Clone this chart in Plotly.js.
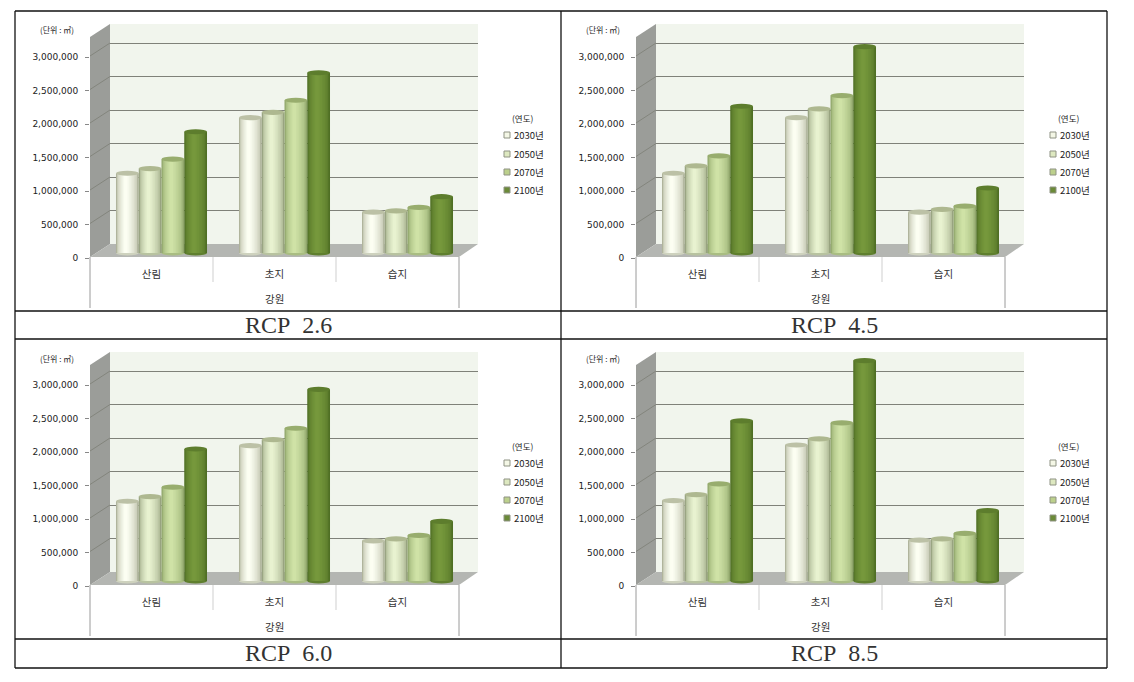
<!DOCTYPE html>
<html><head><meta charset="utf-8">
<script src="https://cdn.plot.ly/plotly-3.0.1.min.js"></script>
<style>html,body{margin:0;padding:0;background:#fff}#c{width:1134px;height:682px}</style>
</head><body><div id="c"></div>
<script>
const categories = ['산림','초지','습지'];
const years = ['2030년','2050년','2070년','2100년'];
const yTicks = [0,500000,1000000,1500000,2000000,2500000,3000000];
const captions = ['RCP\u00a0\u00a02.6','RCP\u00a0\u00a04.5','RCP\u00a0\u00a06.0','RCP\u00a0\u00a08.5'];
const groupTitle = '강원';
const unitLabel = '(단위 : ㎥)';
const legendTitle = '(연도)';

const rcp26 = [[1190000,2020000,610000],[1260000,2100000,630000],[1400000,2280000,680000],[1810000,2690000,840000]];
const rcp45 = [[1190000,2020000,610000],[1300000,2150000,650000],[1450000,2350000,700000],[2190000,3080000,970000]];
const rcp60 = [[1190000,2020000,600000],[1260000,2110000,630000],[1400000,2280000,680000],[1970000,2860000,890000]];
const rcp85 = [[1200000,2030000,610000],[1290000,2120000,630000],[1450000,2360000,710000],[2390000,3290000,1050000]];
const panels = [rcp26,rcp45,rcp60,rcp85];

const edgeColors = ['#b0b49c','#98a380','#8fa56a','#4f6f24'];
const centerColors = ['#fcfef2','#e8f2d0','#cfe2a6','#76983c'];
const capColors = ['#bcc1a6','#aeb890','#98ad6e','#5d7d2d'];
const legendColors = ['#f4f7e6','#dde8c0','#bcd08c','#6b8a38'];

const W=1134,H=682,PX_PER_UNIT=67/1e6,LAYERS=8;
const px=x=>x/W, py=y=>1-y/H;
const hex=c=>[1,3,5].map(i=>parseInt(c.substr(i,2),16));
const mix=(a,b,t)=>{const A=hex(a),B=hex(b);return 'rgb('+A.map((v,i)=>Math.round(v+(B[i]-v)*t)).join(',')+')';};

const layout={width:W,height:H,margin:{l:0,r:0,t:0,b:0,pad:0},paper_bgcolor:'#fff',plot_bgcolor:'rgba(0,0,0,0)',
  barmode:'overlay',showlegend:false,shapes:[],annotations:[],font:{family:'"Noto Sans CJK KR","Noto Sans",sans-serif',color:'#222',size:9}};
const traces=[];
const S=layout.shapes,A=layout.annotations;
const poly=(pts,fill)=>S.push({type:'path',xref:'paper',yref:'paper',layer:'below',fillcolor:fill,line:{width:0},
  path:'M'+pts.map(p=>px(p[0])+','+py(p[1])).join('L')+'Z'});
const seg=(x0,y0,x1,y1,c,w,layer)=>S.push({type:'line',xref:'paper',yref:'paper',layer:layer||'below',x0:px(x0),y0:py(y0),x1:px(x1),y1:py(y1),line:{color:c,width:w}});
const note=(t,x,y,size,extra)=>A.push(Object.assign({text:t,xref:'paper',yref:'paper',x:px(x),y:py(y),showarrow:false,font:{size:size},xanchor:'center',yanchor:'middle'},extra||{}));

panels.forEach((data,p)=>{
  const ox=p%2*546, oy=(p>>1)*328;
  const id=n=>p*3+n;
  const key=(c,n)=>c+'axis'+(id(n)===1?'':id(n));
  const ref=(c,n)=>c+(id(n)===1?'':id(n));
  poly([[90+ox,37+oy],[110+ox,24+oy],[110+ox,244+oy],[90+ox,257+oy]],'#9b9d99');
  poly([[110+ox,24+oy],[478+ox,24+oy],[478+ox,244+oy],[110+ox,244+oy]],'#f1f5ed');
  poly([[90+ox,257+oy],[110+ox,244+oy],[478+ox,244+oy],[459+ox,257+oy]],'#b4b6b2');
  yTicks.slice(1).forEach(v=>seg(90+ox,257+oy-v*PX_PER_UNIT,110+ox,244+oy-v*PX_PER_UNIT,'#83857d',1));
  seg(90+ox,257+oy,90+ox,308+oy,'#9a9a9a',1);
  seg(459+ox,257+oy,459+ox,308+oy,'#9a9a9a',1);
  seg(213+ox,257+oy,213+ox,282+oy,'#cfcfcf',1);
  seg(336+ox,257+oy,336+ox,282+oy,'#cfcfcf',1);

  layout[key('x',1)]={domain:[px(110+ox),px(478+ox)],range:[0,1],visible:false,anchor:ref('y',1)};
  layout[key('y',1)]={domain:[py(244+oy),py(24+oy)],range:[0,220/PX_PER_UNIT],anchor:ref('x',1),tickmode:'array',tickvals:yTicks.slice(1),
    showticklabels:false,ticks:'',showgrid:true,gridcolor:'#7f8179',gridwidth:1,zeroline:false,showline:false};
  layout[key('x',2)]={domain:[px(90+ox),px(459+ox)],range:[-0.5,2.5],anchor:ref('y',2),tickmode:'array',tickvals:[0,1,2],ticktext:categories,
    ticks:'',showgrid:false,zeroline:false,showline:false,ticklabelstandoff:8,tickfont:{size:10.5,color:'#333'}};
  layout[key('y',2)]={domain:[py(258+oy),py(38+oy)],range:[0,220/PX_PER_UNIT],anchor:ref('x',2),tickmode:'array',tickvals:yTicks,tickformat:',d',
    ticks:'outside',ticklen:4,tickcolor:'#888',showgrid:false,zeroline:false,showline:false,ticklabelstandoff:5,
    tickfont:{size:9,family:'"DejaVu Sans",sans-serif',color:'#222'}};
  layout[key('x',3)]={domain:[px(100+ox),px(469+ox)],type:'category',categoryorder:'array',categoryarray:categories,range:[-0.5,2.5],visible:false,anchor:ref('y',3)};
  const top=20,bot=262;
  layout[key('y',3)]={domain:[py(bot+oy),py(top+oy)],range:[-(bot-253)/PX_PER_UNIT,(253-top)/PX_PER_UNIT],visible:false,anchor:ref('x',3)};

  [1,2].forEach(n=>traces.push({type:'scatter',x:[],y:[],xaxis:ref('x',n),yaxis:ref('y',n),hoverinfo:'skip'}));

  const w=0.185, capH=2.6/PX_PER_UNIT;
  data.forEach((vals,s)=>{
    const left=-2*w+s*w;
    for(let k=0;k<LAYERS;k++){
      const t=k/(LAYERS-1);
      const hl=0.42;
      const l=left+w*hl*(t*0.85), width=w*(1-t*0.85);
      traces.push({type:'bar',x:categories,y:vals,xaxis:ref('x',3),yaxis:ref('y',3),name:years[s],
        width:width,offset:l,marker:{color:mix(edgeColors[s],centerColors[s],Math.pow(t,0.5)),line:{width:0}},hoverinfo:'skip'});
    }
    vals.forEach((v,c)=>{
      S.push({type:'circle',xref:ref('x',3),yref:ref('y',3),layer:'below',x0:c+left,x1:c+left+w,y0:-capH,y1:capH,fillcolor:mix(edgeColors[s],centerColors[s],0.4),line:{width:0}});
      S.push({type:'circle',xref:ref('x',3),yref:ref('y',3),layer:'above',x0:c+left,x1:c+left+w,y0:v-capH,y1:v+capH,fillcolor:capColors[s],line:{width:0}});
    });
    const ly=[135,154,172,190][s]+oy;
    S.push({type:'rect',xref:'paper',yref:'paper',x0:px(504+ox),x1:px(510+ox),y0:py(ly+3),y1:py(ly-3),fillcolor:legendColors[s],line:{color:'#8f9384',width:1}});
    note(years[s],512+ox,ly,9.5,{xanchor:'left'});
  });
  note(legendTitle,523+ox,118+oy,8.5);
  note(unitLabel,57+ox,30+oy,8);
  note(groupTitle,274+ox,298+oy,10,{font:{size:10.5,color:'#333'}});
  note(captions[p],288+ox,325+oy,24,{font:{size:24,family:'"Liberation Serif",serif',color:'#333'}});
});

[11,311,339,639,668].forEach(y=>seg(15,y,1107,y,'#111',1.3,'above'));
[15,561,1107].forEach(x=>seg(x,11,x,668,'#111',1.3,'above'));

Plotly.newPlot('c',traces,layout,{staticPlot:true,displayModeBar:false});
</script></body></html>
